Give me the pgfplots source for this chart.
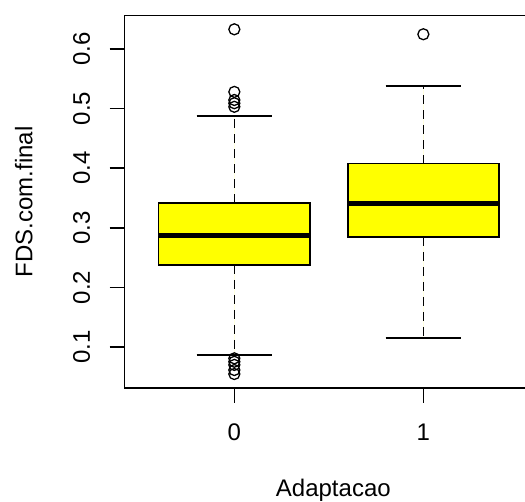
\documentclass[border=0pt]{standalone}
\usepackage{pgfplots}
\pgfplotsset{compat=1.18}
\usepgfplotslibrary{statistics}
\usepackage{fontspec}
\setmainfont{Liberation Sans}
\definecolor{ryellow}{RGB}{255,255,0}
\pgfplotsset{
  boxplot/draw/lower whisker/.code={%
    \draw[line width=1.6pt, dash pattern=on 9pt off 6pt]
      (boxplot cs:\pgfplotsboxplotvalue{lower quartile}) -- (boxplot cs:\pgfplotsboxplotvalue{lower whisker});
    \draw[line width=1.6pt]
      (boxplot whisker cs:\pgfplotsboxplotvalue{lower whisker},0) -- (boxplot whisker cs:\pgfplotsboxplotvalue{lower whisker},1);
  },
  boxplot/draw/upper whisker/.code={%
    \draw[line width=1.6pt, dash pattern=on 9pt off 6pt]
      (boxplot cs:\pgfplotsboxplotvalue{upper quartile}) -- (boxplot cs:\pgfplotsboxplotvalue{upper whisker});
    \draw[line width=1.6pt]
      (boxplot whisker cs:\pgfplotsboxplotvalue{upper whisker},0) -- (boxplot whisker cs:\pgfplotsboxplotvalue{upper whisker},1);
  },
}
\begin{document}
\begin{tikzpicture}
\useasboundingbox (-124.7pt,-114.2pt) rectangle (400.3pt,387.8pt);
\begin{axis}[
  scale only axis,
  width=408.3pt, height=372.2pt,
  xmin=-0.58, xmax=1.58, ymin=0.0316, ymax=0.656,
  xtick={0,1}, ytick={0.1,0.2,0.3,0.4,0.5,0.6},
  xticklabels={0,1},
  tick pos=left,
  tick align=outside,
  major tick length=15pt,
  axis line style={line width=1.5pt},
  every tick/.style={black, line width=1.5pt},
  /pgf/number format/assume math mode=true,
  yticklabel style={/pgf/number format/fixed, /pgf/number format/precision=1,
    rotate=90, anchor=south, inner sep=0pt, font=\fontsize{24}{28}\selectfont},
  yticklabel shift=19.5pt,
  xticklabel style={anchor=north, inner sep=0pt, font=\fontsize{24}{28}\selectfont},
  xticklabel shift=20.5pt,
  xlabel={Adaptacao},
  ylabel={FDS.com.final},
  xlabel style={at={(axis description cs:0.511,-0.2926)}, anchor=base, inner sep=0pt,
    font=\fontsize{24}{28}\selectfont},
  ylabel style={at={(axis description cs:-0.2261,0.5)}, rotate=0, anchor=base, inner sep=0pt,
    font=\fontsize{24}{28}\selectfont},
  boxplot/draw direction=y,
  boxplot/box extend=0.8,
  boxplot/whisker extend=0.4,
  boxplot/every median/.style={line width=4.5pt},
]
\addplot[boxplot prepared={
    draw position=0,
    lower whisker=0.0871, lower quartile=0.238, median=0.2874,
    upper quartile=0.3416, upper whisker=0.4876},
  fill=ryellow, draw=black, line width=1.5pt,
  mark=o, mark size=5.5pt, mark options={line width=1.3pt, solid}]
  coordinates {(0,0.633) (0,0.528) (0,0.5144) (0,0.509) (0,0.503)
               (0,0.081) (0,0.0753) (0,0.070) (0,0.0614) (0,0.0547)};
\addplot[boxplot prepared={
    draw position=1,
    lower whisker=0.1156, lower quartile=0.2846, median=0.341,
    upper quartile=0.4076, upper whisker=0.5379},
  fill=ryellow, draw=black, line width=1.5pt,
  mark=o, mark size=5.5pt, mark options={line width=1.3pt, solid}]
  coordinates {(1,0.6247)};
\end{axis}
\end{tikzpicture}
\end{document}
